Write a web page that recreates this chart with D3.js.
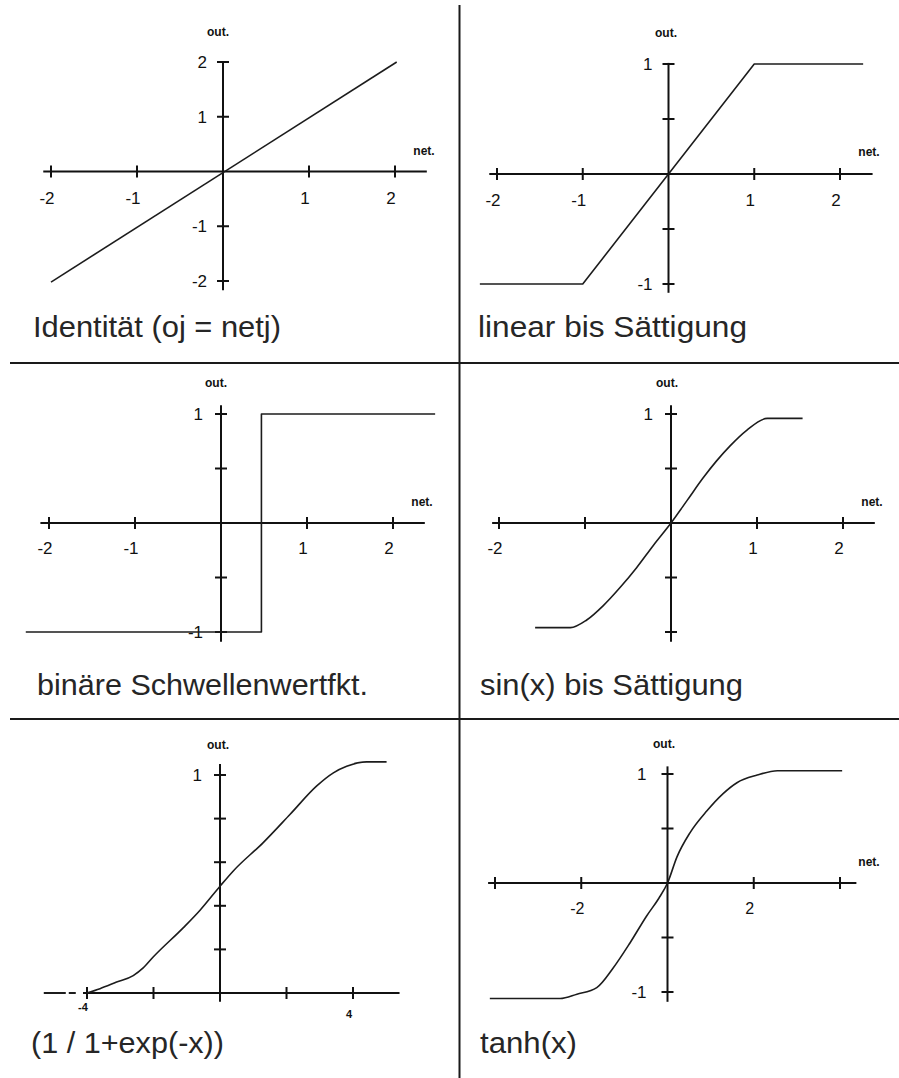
<!DOCTYPE html>
<html>
<head>
<meta charset="utf-8">
<script src="https://cdn.jsdelivr.net/npm/d3@7"></script>
<style>
  html, body { margin: 0; padding: 0; background: #fff; }
  svg { display: block; }
</style>
</head>
<body>
<svg id="chart" width="899" height="1078"></svg>
<script>
// ---------------- DATA ----------------
const captions = [
  "Identität (oj = netj)",
  "linear bis Sättigung",
  "binäre Schwellenwertfkt.",
  "sin(x) bis Sättigung",
  "(1 / 1+exp(-x))",
  "tanh(x)"
];
const yAxisName = "out.";
const xAxisName = "net.";

// Identity
const identityX = [-2, 2.02];
const identityY = [-2.02, 2];
// linear until saturation
const linSatX = [-2.2, -1, 1, 2.27];
const linSatY = [-1, -1, 1, 1];
// binary threshold
const stepX = [-2.27, 0.47, 0.47, 2.49];
const stepY = [-1, -1, 1, 1];
// sin(x) until saturation
const sinSatX = [-1.58, -1.17, -0.98, -0.79, -0.59, -0.40, -0.21, 0, 0.19, 0.37, 0.53, 0.69, 0.88, 1.12, 1.53];
const sinSatY = [-0.96, -0.96, -0.89, -0.76, -0.59, -0.41, -0.21, 0, 0.21, 0.41, 0.57, 0.71, 0.85, 0.96, 0.96];
// logistic
const sigmoidX = [-4.01, -3.61, -3.11, -2.61, -2.31, -2.01, -1.10, -0.60, 0, 0.40, 1.30, 2.11, 2.91, 3.41, 3.81, 4.41, 5.01];
const sigmoidY = [0, 0.02, 0.05, 0.08, 0.115, 0.165, 0.30, 0.38, 0.49, 0.56, 0.69, 0.82, 0.95, 1.01, 1.04, 1.06, 1.06];
const sigmoidTailX = [-5.3, -4.12];
const sigmoidTailY = [0, 0];
// tanh
const tanhX = [-4.12, -2.49, -2.10, -1.64, -1.26, -0.87, -0.48, -0.20, 0, 0.22, 0.52, 0.91, 1.29, 1.61, 2.08, 2.55, 4.05];
const tanhY = [-1.06, -1.06, -1.02, -0.96, -0.78, -0.55, -0.30, -0.14, 0, 0.24, 0.46, 0.66, 0.82, 0.92, 0.99, 1.03, 1.03];

// ticks and tick labels
const p1XTicks = [-2, -1, 1, 2];
const p1YTicks = [-2, -1, 1, 2];
const p1XLabels = ["-2", "-1", "1", "2"];
const p1YLabels = ["-2", "-1", "1", "2"];
const unitXTicks = [-2, -1, 1, 2];
const halfYTicks = [-1, -0.5, 0.5, 1];
const p2XLabels = ["-2", "-1", "1", "2"];
const p2YLabelValues = [-1, 1];
const p2YLabels = ["-1", "1"];
const p4XLabelValues = [-2, 1, 2];
const p4XLabels = ["-2", "1", "2"];
const p4YLabelValues = [1];
const p4YLabels = ["1"];
const sigXTicks = [-4, -2, 2, 4];
const sigYTicks = [0.2, 0.4, 0.6, 0.8, 1];
const sigXLabelValues = [-4, 4];
const sigXLabels = ["-4", "4"];
const sigYLabelValues = [1];
const sigYLabels = ["1"];
const tanhXTicks = [-4, -2, 2, 4];
const tanhXLabelValues = [-2, 2];
const tanhXLabels = ["-2", "2"];
const tanhYLabelValues = [-1, 1];
const tanhYLabels = ["-1", "1"];

// ---------------- LAYOUT ----------------
const panels = [
  { xDomain: [-2, 2], xRange: [51, 395], yDomain: [-2, 2], yRange: [281, 62],
    xExt: [-2.09, 2.37], yExt: [-2.17, 2.02],
    xTicks: p1XTicks, yTicks: p1YTicks,
    xLabelVals: p1XTicks, xLabels: p1XLabels, yLabelVals: p1YTicks, yLabels: p1YLabels,
    series: [{ xs: identityX, ys: identityY }],
    caption: 0, capPos: [33, 337], capLen: 248, outPos: [218, 36], netPos: [424, 155], yLabDx: -16, xLabDy: 32, xLabFont: 17 },
  { xDomain: [-2, 2], xRange: [497, 840], yDomain: [-1, 1], yRange: [284, 64],
    xExt: [-2.09, 2.38], yExt: [-1.08, 1.01],
    xTicks: unitXTicks, yTicks: halfYTicks,
    xLabelVals: unitXTicks, xLabels: p2XLabels, yLabelVals: p2YLabelValues, yLabels: p2YLabels,
    series: [{ xs: linSatX, ys: linSatY }],
    caption: 1, capPos: [478, 337], capLen: 269, outPos: [666, 37], netPos: [869, 156], yLabDx: -16, xLabDy: 32, xLabFont: 17 },
  { xDomain: [-2, 2], xRange: [49, 393], yDomain: [-1, 1], yRange: [632, 414],
    xExt: [-2.1, 2.37], yExt: [-1.09, 1.08],
    xTicks: unitXTicks, yTicks: halfYTicks,
    xLabelVals: unitXTicks, xLabels: p2XLabels, yLabelVals: p2YLabelValues, yLabels: p2YLabels,
    series: [{ xs: stepX, ys: stepY }],
    caption: 2, capPos: [37, 695], capLen: 331, outPos: [216, 387], netPos: [422, 506], yLabDx: -18, xLabDy: 31, xLabFont: 17 },
  { xDomain: [-2, 2], xRange: [499, 843], yDomain: [-1, 1], yRange: [632, 414],
    xExt: [-2.08, 2.37], yExt: [-1.09, 1.08],
    xTicks: unitXTicks, yTicks: halfYTicks,
    xLabelVals: p4XLabelValues, xLabels: p4XLabels, yLabelVals: p4YLabelValues, yLabels: p4YLabels,
    series: [{ xs: sinSatX, ys: sinSatY, smooth: true }],
    caption: 3, capPos: [480, 695], capLen: 263, outPos: [667, 387], netPos: [872, 506], yLabDx: -18, xLabDy: 31, xLabFont: 17 },
  { xDomain: [-4, 4], xRange: [87, 353], yDomain: [0, 1], yRange: [993, 775],
    xExt: [-4.12, 5.4], yExt: [-0.04, 1.05],
    xTicks: sigXTicks, yTicks: sigYTicks,
    xLabelVals: sigXLabelValues, xLabels: sigXLabels, yLabelVals: sigYLabelValues, yLabels: sigYLabels,
    series: [{ xs: sigmoidX, ys: sigmoidY, smooth: true },
             { xs: sigmoidTailX, ys: sigmoidTailY, dash: "22,3,7,20", width: 2 }],
    caption: 4, capPos: [31, 1053], capLen: 193, outPos: [218, 749], netPos: null, yLabDx: -18,
    xLabDyList: [18, 25], xLabFont: 11, xLabBold: true },
  { xDomain: [-4, 4], xRange: [495, 840], yDomain: [-1, 1], yRange: [992, 774],
    xExt: [-4.16, 4.38], yExt: [-1.09, 1.07],
    xTicks: tanhXTicks, yTicks: halfYTicks,
    xLabelVals: tanhXLabelValues, xLabels: tanhXLabels, yLabelVals: tanhYLabelValues, yLabels: tanhYLabels,
    series: [{ xs: tanhX, ys: tanhY, smooth: true }],
    caption: 5, capPos: [480, 1053], capLen: 97, outPos: [664, 748], netPos: [869, 866], yLabDx: -21, xLabDy: 31, xLabFont: 16 }
];

// ---------------- DRAW ----------------
const svg = d3.select("#chart");
const ink = "#111";
const font = "'Liberation Sans', Arial, Helvetica, sans-serif";

// dividers
svg.append("line").attr("x1", 459.5).attr("x2", 459.5).attr("y1", 5).attr("y2", 1078)
  .attr("stroke", "#1a1a1a").attr("stroke-width", 2);
[363, 719].forEach(yy => {
  svg.append("line").attr("x1", 10).attr("x2", 899).attr("y1", yy).attr("y2", yy)
    .attr("stroke", "#1a1a1a").attr("stroke-width", 2);
});

panels.forEach(cfg => {
  const x = d3.scaleLinear().domain(cfg.xDomain).range(cfg.xRange);
  const y = d3.scaleLinear().domain(cfg.yDomain).range(cfg.yRange);
  const g = svg.append("g");
  const x0 = x(0), y0 = y(0);

  // axes
  g.append("line").attr("x1", x(cfg.xExt[0])).attr("x2", x(cfg.xExt[1]))
    .attr("y1", y0).attr("y2", y0).attr("stroke", ink).attr("stroke-width", 2);
  g.append("line").attr("x1", x0).attr("x2", x0)
    .attr("y1", y(cfg.yExt[0])).attr("y2", y(cfg.yExt[1])).attr("stroke", ink).attr("stroke-width", 2);

  // crossing ticks
  g.selectAll(null).data(cfg.xTicks).enter().append("line")
    .attr("x1", d => x(d)).attr("x2", d => x(d))
    .attr("y1", y0 - 6).attr("y2", y0 + 6)
    .attr("stroke", ink).attr("stroke-width", 2);
  g.selectAll(null).data(cfg.yTicks).enter().append("line")
    .attr("x1", x0 - 6).attr("x2", x0 + 6)
    .attr("y1", d => y(d)).attr("y2", d => y(d))
    .attr("stroke", ink).attr("stroke-width", 2);

  // tick labels
  g.selectAll(null).data(cfg.xLabelVals).enter().append("text")
    .attr("x", d => x(d) - 4)
    .attr("y", (d, i) => y0 + (cfg.xLabDyList ? cfg.xLabDyList[i] : cfg.xLabDy))
    .attr("text-anchor", "middle")
    .attr("font-family", font).attr("font-size", cfg.xLabFont)
    .attr("font-weight", cfg.xLabBold ? "bold" : "normal")
    .attr("fill", ink)
    .text((d, i) => cfg.xLabels[i]);
  g.selectAll(null).data(cfg.yLabelVals).enter().append("text")
    .attr("x", x0 + cfg.yLabDx)
    .attr("y", d => y(d))
    .attr("dy", "0.36em")
    .attr("text-anchor", "end")
    .attr("font-family", font).attr("font-size", 17)
    .attr("fill", ink)
    .text((d, i) => cfg.yLabels[i]);

  // axis names
  g.append("text").attr("x", cfg.outPos[0]).attr("y", cfg.outPos[1])
    .attr("text-anchor", "middle").attr("font-family", font)
    .attr("font-size", 12).attr("font-weight", "bold").attr("fill", ink)
    .text(yAxisName);
  if (cfg.netPos) {
    g.append("text").attr("x", cfg.netPos[0]).attr("y", cfg.netPos[1])
      .attr("text-anchor", "middle").attr("font-family", font)
      .attr("font-size", 12).attr("font-weight", "bold").attr("fill", ink)
      .text(xAxisName);
  }

  // curves
  cfg.series.forEach(s => {
    const line = d3.line()
      .x(d => x(d[0])).y(d => y(d[1]))
      .curve(s.smooth ? d3.curveMonotoneX : d3.curveLinear);
    g.append("path").datum(d3.zip(s.xs, s.ys))
      .attr("d", line)
      .attr("fill", "none")
      .attr("stroke", "#1c1c1c")
      .attr("stroke-width", s.width || 1.6)
      .attr("stroke-dasharray", s.dash || null)
      .attr("stroke-linejoin", "round");
  });

  // caption
  g.append("text").attr("x", cfg.capPos[0]).attr("y", cfg.capPos[1])
    .attr("font-family", font).attr("font-size", 30)
    .attr("textLength", cfg.capLen).attr("lengthAdjust", "spacingAndGlyphs")
    .attr("fill", "#262626")
    .text(captions[cfg.caption]);
});
</script>
</body>
</html>
